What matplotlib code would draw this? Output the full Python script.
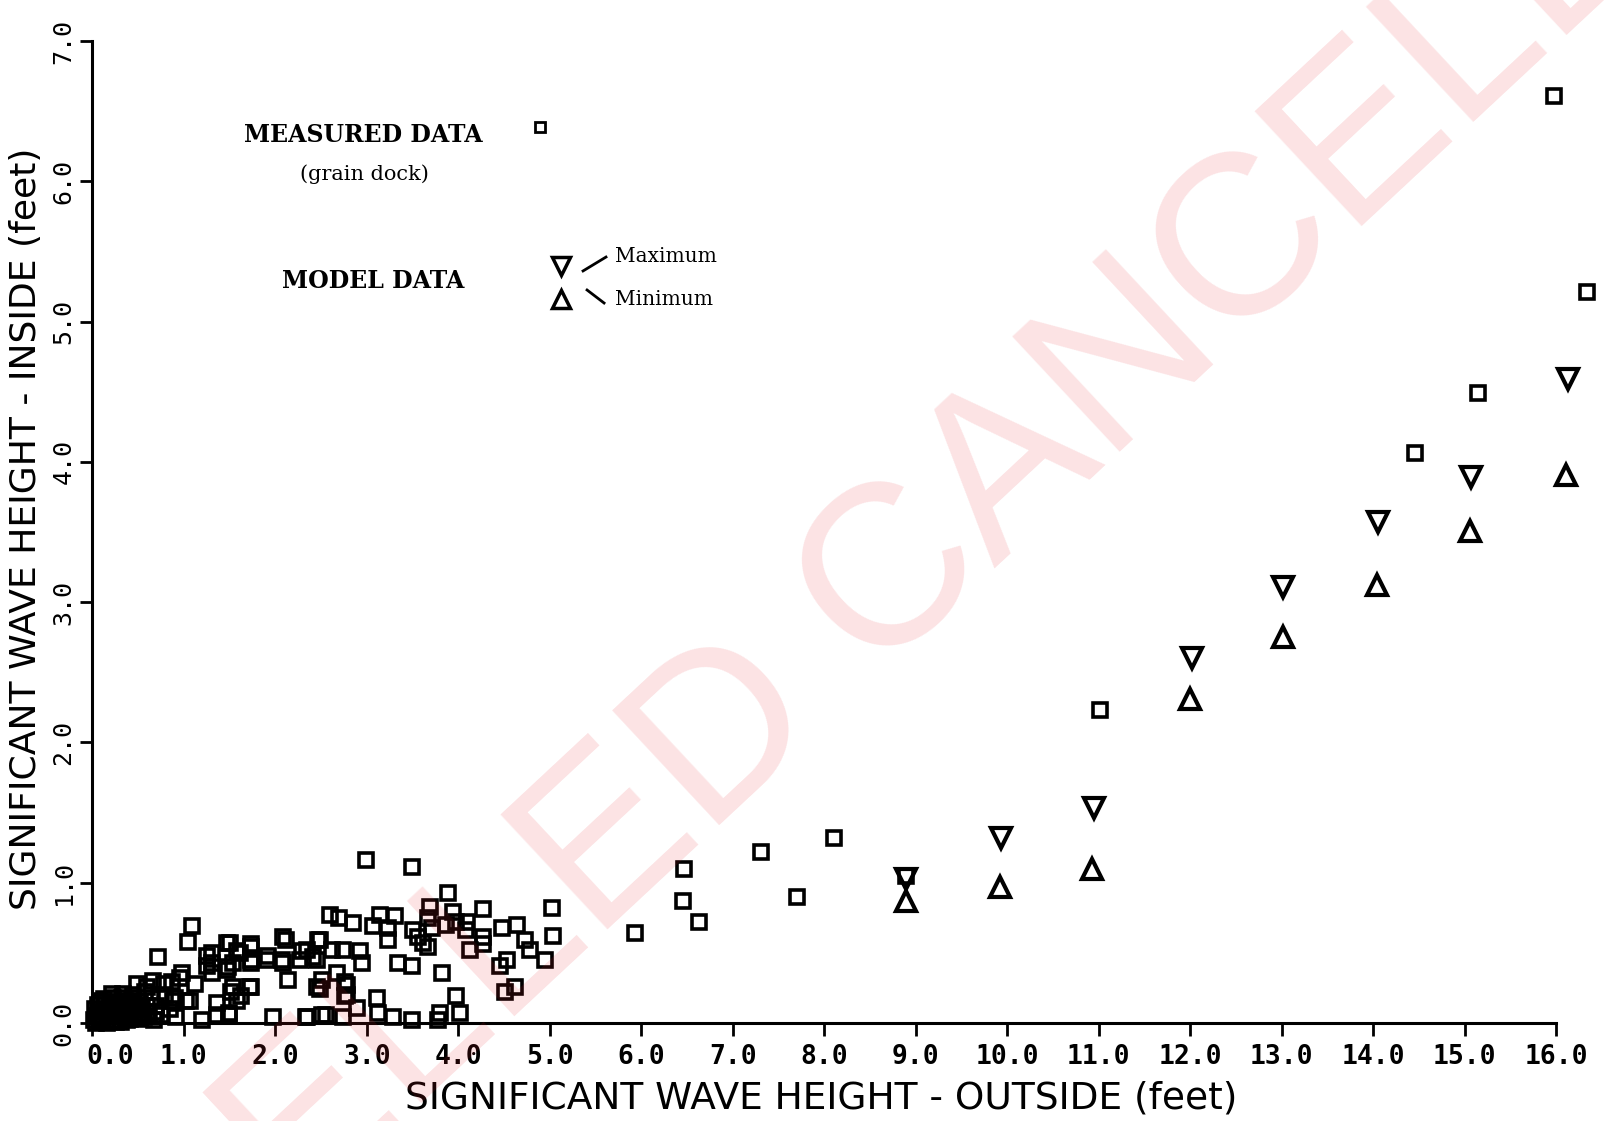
import matplotlib
matplotlib.use('Agg')
import matplotlib.pyplot as plt
import matplotlib.transforms as mtransforms

meas_x = [15.97, 16.33, 15.14, 14.46, 11.01, 8.11, 7.31, 6.47, 7.70, 6.46, 6.63, 5.93, 8.89,
          5.02, 5.04, 4.95,
          2.99, 3.49, 3.89, 3.69, 3.94, 4.27, 2.60, 2.70, 2.85, 3.07, 3.14, 3.31, 3.23, 3.23,
          3.67, 3.71, 3.87, 3.98, 4.10, 4.09, 4.27, 4.27, 4.13, 4.48, 4.64, 4.73, 4.78,
          3.51, 3.56, 3.67, 3.61, 3.34, 3.49, 3.82, 4.46, 4.53, 4.51, 4.62, 3.98, 4.02, 3.80,
          3.78, 3.49, 3.29, 3.12, 3.11, 2.89, 2.78, 2.78, 2.56, 2.49, 2.51, 2.49, 2.35, 2.62,
          2.74, 2.93, 2.95, 2.41, 2.67, 2.35, 1.98, 2.12, 2.14, 2.07, 1.91, 1.73, 1.73, 1.51,
          1.54, 1.62, 1.31, 1.31, 1.31, 1.47, 1.54, 1.63, 1.73, 1.09, 1.05, 0.72, 0.98, 1.12,
          0.87, 1.36, 1.49, 1.20, 1.03, 0.88, 0.70, 0.68, 0.49, 0.60, 0.92, 0.08,
          1.25, 1.25, 1.47, 1.48, 1.58, 1.74, 1.74, 1.92, 2.08, 2.08, 2.29, 2.27, 2.47, 2.46,
          1.52, 1.72, 1.58, 0.90, 1.07, 1.36, 1.50, 2.34, 2.51, 2.74, 2.46, 2.76, 2.76, 0.96,
          0.02, 0.05, 0.08, 0.10, 0.12, 0.15, 0.18, 0.20, 0.22, 0.25, 0.28, 0.30, 0.32, 0.35,
          0.38, 0.40, 0.42, 0.45, 0.48, 0.50, 0.52, 0.55, 0.58, 0.60, 0.62, 0.03, 0.06, 0.09,
          0.13, 0.16, 0.19, 0.23, 0.26, 0.29, 0.33, 0.36, 0.39, 0.43, 0.46, 0.04, 0.11, 0.14,
          0.17, 0.21, 0.24, 0.27, 0.31, 0.34, 0.37, 0.41, 0.44, 0.47, 0.53, 0.57, 0.65, 0.70,
          0.75, 0.80, 0.85, 0.78, 0.66, 0.34, 0.22]
meas_y = [6.61, 5.21, 4.49, 4.06, 2.23, 1.32, 1.22, 1.10, 0.90, 0.87, 0.72, 0.64, 1.05,
          0.82, 0.62, 0.45,
          1.16, 1.11, 0.93, 0.83, 0.79, 0.81, 0.77, 0.75, 0.71, 0.69, 0.77, 0.76, 0.68, 0.59,
          0.75, 0.68, 0.70, 0.72, 0.72, 0.66, 0.61, 0.56, 0.52, 0.68, 0.70, 0.59, 0.52,
          0.66, 0.61, 0.54, 0.57, 0.43, 0.41, 0.36, 0.41, 0.45, 0.22, 0.26, 0.19, 0.07, 0.07,
          0.02, 0.02, 0.04, 0.07, 0.18, 0.11, 0.20, 0.27, 0.06, 0.24, 0.31, 0.59, 0.52, 0.52,
          0.52, 0.51, 0.43, 0.47, 0.36, 0.04, 0.04, 0.59, 0.31, 0.45, 0.45, 0.54, 0.43, 0.57,
          0.43, 0.50, 0.50, 0.43, 0.36, 0.38, 0.26, 0.19, 0.26, 0.69, 0.58, 0.47, 0.36, 0.28,
          0.29, 0.14, 0.07, 0.02, 0.16, 0.16, 0.08, 0.02, 0.28, 0.26, 0.04, 0.16,
          0.48, 0.41, 0.57, 0.40, 0.51, 0.56, 0.45, 0.48, 0.61, 0.43, 0.51, 0.45, 0.59, 0.45,
          0.22, 0.26, 0.16, 0.18, 0.16, 0.06, 0.06, 0.04, 0.06, 0.04, 0.26, 0.29, 0.19, 0.32,
          0.02, 0.05, 0.01, 0.08, 0.03, 0.10, 0.05, 0.14, 0.02, 0.08, 0.12, 0.04, 0.18, 0.09,
          0.02, 0.14, 0.06, 0.20, 0.10, 0.03, 0.15, 0.07, 0.22, 0.12, 0.05, 0.10, 0.13, 0.15,
          0.17, 0.00, 0.12, 0.18, 0.01, 0.07, 0.13, 0.16, 0.08, 0.11, 0.04, 0.00, 0.06, 0.13,
          0.08, 0.05, 0.11, 0.15, 0.01, 0.05, 0.11, 0.03, 0.16, 0.13, 0.10, 0.04, 0.18, 0.12,
          0.06, 0.20, 0.10, 0.28, 0.30, 0.21, 0.21]

# model data
max_x = [8.89, 9.93, 10.95, 12.02, 13.01, 14.05, 15.07, 16.13]
max_y = [1.03, 1.32, 1.53, 2.60, 3.11, 3.57, 3.89, 4.59]
min_x = [8.89, 9.92, 10.93, 12.00, 13.01, 14.04, 15.06, 16.11]
min_y = [0.87, 0.97, 1.10, 2.31, 2.75, 3.12, 3.51, 3.91]

xticks = [float(i) for i in range(17)]
yticks = [float(i) for i in range(8)]

fig = plt.figure(figsize=(16.04, 11.21), dpi=100)
ax = fig.add_axes([0.0575, 0.0874, 0.9128, 0.876])

ax.plot(meas_x, meas_y, 's', ms=10, mfc='none', mec='black', mew=2.6, clip_on=False)
ax.plot(max_x, max_y, 'v', ms=15, mfc='none', mec='black', mew=3, clip_on=False)
ax.plot(min_x, min_y, '^', ms=15, mfc='none', mec='black', mew=3, clip_on=False)

ax.set_xlim(0, 16)
ax.set_ylim(0, 7)
ax.spines['top'].set_visible(False)
ax.spines['right'].set_visible(False)
ax.spines['left'].set_linewidth(2.2)
ax.spines['bottom'].set_linewidth(2.2)

ax.set_xticks(xticks)
ax.set_xticklabels(['%.1f' % v for v in xticks], family='DejaVu Sans Mono',
                   fontweight='bold', fontsize=19)
ax.set_yticks(yticks)
ax.set_yticklabels(['%.1f' % v for v in yticks], family='DejaVu Sans Mono',
                   fontsize=18, rotation=90, va='center')
ax.tick_params(direction='out', length=9, width=2)
ax.tick_params(axis='x', pad=6)
ax.tick_params(axis='y', pad=3)

# first x label sits a little right of its tick, as in the original
lbl0 = ax.get_xticklabels()[0]
lbl0.set_transform(lbl0.get_transform() +
                   mtransforms.ScaledTranslation(0.18, 0, fig.dpi_scale_trans))

lab_font = ['DejaVu Sans']
fig.text(0.512, 0.0205, 'SIGNIFICANT WAVE HEIGHT - OUTSIDE (feet)', family=lab_font,
         fontsize=27, ha='center', va='center')
fig.text(0.0165, 0.528, 'SIGNIFICANT WAVE HEIGHT - INSIDE (feet)', family=lab_font,
         fontsize=26, ha='center', va='center', rotation=90)

# legend block
fig.text(0.2263, 0.8796, 'MEASURED DATA', family='DejaVu Serif', fontweight='bold',
         fontsize=17, ha='center', va='center')
fig.text(0.2269, 0.8448, '(grain dock)', family='DejaVu Serif', fontsize=15,
         ha='center', va='center')
fig.text(0.2325, 0.7493, 'MODEL DATA', family='DejaVu Serif', fontweight='bold',
         fontsize=17, ha='center', va='center')
ax.plot([0.3367], [0.8867], 's', ms=7, mfc='none', mec='black', mew=2,
        transform=fig.transFigure, clip_on=False)
ax.plot([0.3497], [0.7627], 'v', ms=13, mfc='none', mec='black', mew=2.5,
        transform=fig.transFigure, clip_on=False)
ax.plot([0.3497], [0.7333], '^', ms=13, mfc='none', mec='black', mew=2.5,
        transform=fig.transFigure, clip_on=False)
ax.plot([0.3635, 0.3778], [0.7583, 0.7707], color='black', lw=2,
        transform=fig.transFigure, clip_on=False)
ax.plot([0.3660, 0.3766], [0.7413, 0.7297], color='black', lw=2,
        transform=fig.transFigure, clip_on=False)
fig.text(0.3834, 0.7716, 'Maximum', family='DejaVu Serif', fontsize=14.5, va='center')
fig.text(0.3834, 0.7324, 'Minimum', family='DejaVu Serif', fontsize=14.5, va='center')

# stamp across the page
fig.text(0.505, 0.412, 'CANCELLED CANCELLED', family='Liberation Sans', fontsize=165,
         color='#e8202a', alpha=0.13, rotation=43, ha='center', va='center',
         rotation_mode='anchor', zorder=10)

fig.savefig('out.png', dpi=100)
